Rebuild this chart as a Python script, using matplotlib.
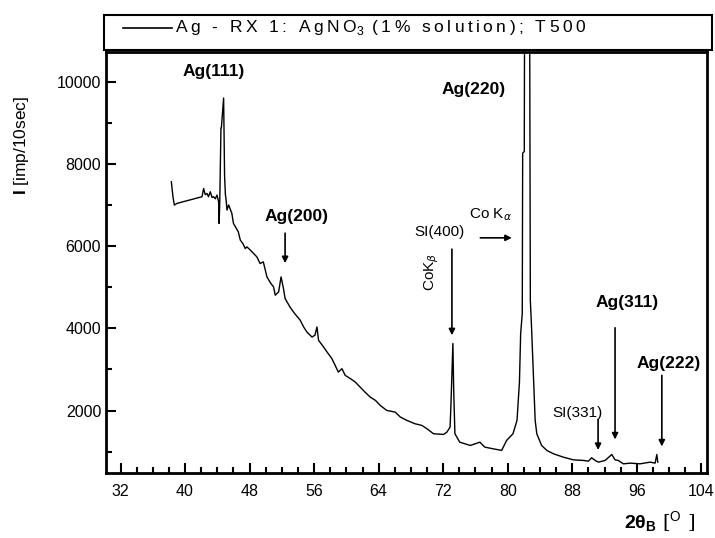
import matplotlib
matplotlib.use("Agg")
import matplotlib.pyplot as plt
from matplotlib.patches import Rectangle
from matplotlib.lines import Line2D

plt.rcParams['font.family'] = ['Liberation Sans', 'DejaVu Sans']
plt.rcParams['mathtext.fontset'] = 'custom'
plt.rcParams['mathtext.rm'] = 'Liberation Sans'
plt.rcParams['mathtext.bf'] = 'Liberation Sans:bold'

# ---- data (2theta in degrees, intensity in imp/10sec) ----
two_theta = [
    38.3, 38.5, 38.67, 39.0, 40.0, 41.0, 42.1, 42.3, 42.5, 42.72, 42.9, 43.13, 43.35, 43.54,
    43.75, 43.96, 44.16, 44.22, 44.3, 44.45, 44.5, 44.78, 44.9, 45.0, 45.07, 45.2, 45.4,
    45.8, 46.0, 46.3, 46.6, 46.85, 47.2, 47.46, 47.67, 48.1, 48.5, 48.9, 49.3, 49.7, 50.15,
    50.6, 50.97, 51.18, 51.6, 51.9, 52.2, 52.4, 53.0, 53.5, 54.28, 54.7, 55.1, 55.73, 56.1,
    56.35, 56.55, 57.17, 57.6, 58.2, 58.6, 59.0, 59.45, 59.85, 60.5, 61.1, 61.7, 62.3,
    62.95, 63.6, 64.2, 65.0, 66.05, 66.7, 67.5, 68.5, 69.36, 69.98, 70.8, 72.04, 72.46,
    72.85, 72.95, 73.1, 73.2, 73.3, 73.45, 74.05, 75.35, 76.55, 77.15, 78.15, 79.25, 79.85,
    80.65, 81.15, 81.45, 81.6, 81.8, 81.85, 82.05, 82.1, 82.4, 82.7, 82.8, 82.95, 83.4,
    83.6, 84.2, 84.85, 85.67, 86.9, 88.15, 89.4, 90.0, 90.4, 90.84, 91.24, 92.07, 92.9,
    93.3, 93.7, 94.34, 95.2, 96.4, 97.65, 98.27, 98.48, 98.6,
]
intensity = [
    7564, 7200, 6997, 7038, 7090, 7140, 7200, 7400, 7250, 7280, 7200, 7320, 7180, 7200,
    7150, 7240, 7080, 6550, 7050, 8870, 8874, 9600, 7700, 7250, 7160, 6875, 7000,
    6795, 6550, 6450, 6346, 6144, 6050, 5940, 5980, 5900, 5820, 5737, 5575, 5615, 5250,
    5100, 5006, 4804, 4884, 5250, 4967, 4724, 4520, 4380, 4195, 4032, 3910, 3788, 3830,
    4032, 3707, 3545, 3423, 3262, 3100, 2935, 3017, 2855, 2775, 2692, 2570, 2448,
    2327, 2246, 2124, 2002, 1961, 1839, 1759, 1678, 1637, 1557, 1435, 1418, 1474,
    1595, 2083, 3060, 3630, 2500, 1435, 1230, 1150, 1230, 1110, 1070, 1030, 1270,
    1435, 1760, 2690, 3870, 4360, 8260, 8300, 13000, 15000, 13000, 4680, 4030, 1759,
    1435, 1150, 1028, 947, 865, 800, 785, 768, 850, 785, 744, 785, 930,
    800, 785, 703, 720, 703, 744, 720, 930, 744,
]

legend_label = "Ag - RX 1: AgNO$_3$ (1% solution); T500"
x_ticks = [32, 40, 48, 56, 64, 72, 80, 88, 96, 104]
y_ticks = [2000, 4000, 6000, 8000, 10000]


def spaced(s):
    """insert thin spaces between plain characters (outside mathtext)"""
    out, in_math = [], False
    for i, ch in enumerate(s):
        if ch == '$':
            in_math = not in_math
            out.append(ch)
            continue
        out.append(ch)
        if not in_math and i + 1 < len(s) and s[i + 1] != '$':
            out.append('\u2009')
    return ''.join(out)


W, H = 715, 538
fig = plt.figure(figsize=(W / 100, H / 100), dpi=100)
ax = fig.add_axes([106 / W, 1 - 473 / H, (707 - 106) / W, (473 - 52) / H])

ax.plot(two_theta, intensity, color='black', lw=1.0)
ax.set_xlim(30.2, 104.7)
ax.set_ylim(480, 10720)
ax.set_xticks(x_ticks)
ax.set_xticks([v for v in range(32, 105, 2)], minor=True)
ax.set_yticks(y_ticks)
ax.set_yticks([1000, 3000, 5000, 7000, 9000], minor=True)
ax.tick_params(which='both', direction='in', top=False, right=False, labelsize=11.5, width=1.5)
ax.tick_params(which='major', length=7)
ax.tick_params(which='minor', length=4)
ax.tick_params(axis='x', pad=8)
for s in ax.spines.values():
    s.set_linewidth(2)

# annotations
bold = dict(fontsize=12.5, fontweight='bold', ha='center', va='center')
ax.text(43.6, 10236, "Ag(111)", **bold)
ax.text(53.8, 6728, "Ag(200)", **bold)
ax.text(75.8, 9800, "Ag(220)", **bold)
ax.text(94.8, 4630, "Ag(311)", **bold)
ax.text(99.9, 3150, "Ag(222)", **bold)
norm = dict(fontsize=11, ha='center', va='center')
ax.text(71.5, 6340, "SI(400)", **norm)
ax.text(88.7, 1930, "SI(331)", **norm)
ax.text(77.8, 6760, r"Co K$_\alpha$", **norm)
ax.text(70.6, 5364, r"CoK$_\beta$", rotation=90, **norm)

ap = dict(arrowstyle='-|>', lw=1.2, color='black', mutation_scale=9, shrinkA=0, shrinkB=0)
arrows = [((52.4, 6314), (52.4, 5584)),
          ((76.6, 6200), (80.5, 6200)),
          ((73.08, 5925), (73.08, 3830)),
          ((93.3, 4012), (93.3, 1296)),
          ((99.1, 2855), (99.1, 1125)),
          ((91.2, 1783), (91.2, 1040))]
for start, end in arrows:
    ax.annotate("", xy=end, xytext=start, arrowprops=ap)

# legend box above the axes
fig.patches.append(Rectangle((104 / W, 1 - 50 / H), (712 - 104) / W, 35 / H,
                             transform=fig.transFigure, fill=False, lw=1.5,
                             edgecolor='black'))
fig.lines.append(Line2D([123 / W, 172 / W], [1 - 28 / H, 1 - 28 / H],
                        transform=fig.transFigure, color='black', lw=1.2))
fig.text(175 / W, 1 - 28 / H, spaced(legend_label), fontsize=12.5, ha='left', va='center')

# axis labels
fig.text(22 / W, 1 - 145 / H, r"$\mathbf{I}$ [imp/10sec]", rotation=90,
         fontsize=12.5, ha='center', va='center')
fig.text(660 / W, 1 - 522 / H, r"$\mathbf{2\theta_B}$ [$^{\rm O}$ ]",
         fontsize=14, ha='center', va='center', family='DejaVu Serif')

fig.savefig("out.png", dpi=100)
